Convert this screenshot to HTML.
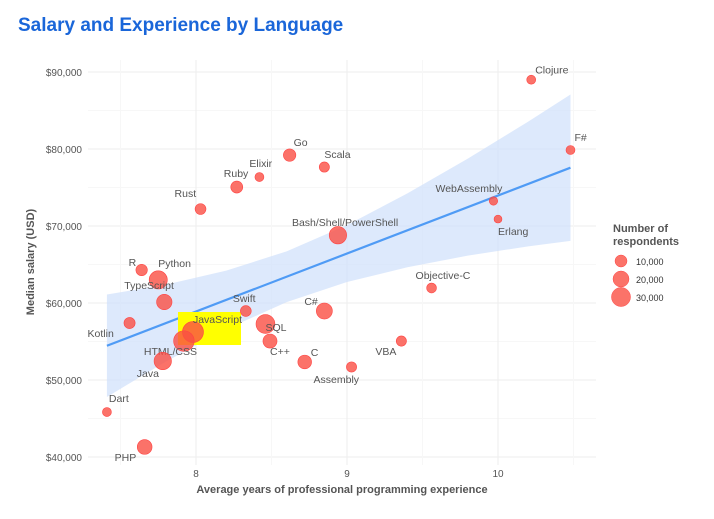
<!DOCTYPE html>
<html><head><meta charset="utf-8"><style>
body{margin:0;background:#fff;font-family:"Liberation Sans",Arial,sans-serif}
svg text{font-family:"Liberation Sans",Arial,sans-serif}
</style></head><body>
<svg id="chart" width="714" height="514" xmlns="http://www.w3.org/2000/svg">
<text x="18" y="31" font-size="19" font-weight="bold" fill="#1a66d9">Salary and Experience by Language</text>
<g id="grid"></g>
<g id="band"></g>
<g id="pts"></g>
<g id="axes"></g>
<text x="342" y="493" font-size="11" font-weight="bold" fill="#555" text-anchor="middle">Average years of professional programming experience</text>
<text transform="translate(34,262) rotate(-90)" font-size="11" font-weight="bold" fill="#555" text-anchor="middle">Median salary (USD)</text>
<g>
<text x="613" y="232" font-size="11" font-weight="bold" fill="#555">Number of</text>
<text x="613" y="245" font-size="11" font-weight="bold" fill="#555">respondents</text>
<circle cx="621" cy="261" r="6" fill="#fa5a4f" fill-opacity="0.85" stroke="#f44" stroke-width="0.5"/>
<circle cx="621" cy="279" r="8" fill="#fa5a4f" fill-opacity="0.85" stroke="#f44" stroke-width="0.5"/>
<circle cx="621" cy="297" r="9.5" fill="#fa5a4f" fill-opacity="0.85" stroke="#f44" stroke-width="0.5"/>
<text x="636" y="265" font-size="9" fill="#333">10,000</text>
<text x="636" y="283" font-size="9" fill="#333">20,000</text>
<text x="636" y="301" font-size="9" fill="#333">30,000</text>
</g>
</svg>
<script>
const langs=["Clojure","F#","Go","Scala","Elixir","Ruby","Rust","WebAssembly","Erlang","Bash/Shell/PowerShell","R","Python","TypeScript","Kotlin","Swift","JavaScript","HTML/CSS","Java","SQL","C#","C++","C","Assembly","VBA","Objective-C","Dart","PHP"];
const years=[10.22,10.48,8.62,8.85,8.42,8.27,8.03,9.97,10.0,8.94,7.64,7.75,7.79,7.56,8.33,7.98,7.92,7.78,8.46,8.85,8.49,8.72,9.03,9.36,9.56,7.41,7.66];
const salary=[89000,79870,79200,77660,76360,75060,72200,73250,70900,68800,64290,63000,60130,57400,58960,56230,55060,52470,57270,58960,55060,52340,51690,55060,61950,45840,41300];
const respondents=[1500,1500,7000,3000,1500,6000,4000,1000,600,22000,5000,25000,15000,4500,4000,38000,36000,22000,28000,17000,11000,10000,3000,3000,2500,1500,13000];
const yTicks=[40000,50000,60000,70000,80000,90000];
const xTicks=[8,9,10];
const trendX=[7.41,10.48];
const trendY=[54450,77570];
const bandX=[7.41,7.8,8.2,8.6,9.0,9.4,9.8,10.2,10.48];
const bandUpper=[61100,62390,64200,66710,70120,74240,78750,83560,87070];
const bandLower=[47800,52390,56600,60110,62720,64640,66150,67360,68070];
const labelDx=[4,4,4,0,-10,-13,-26,-58,0,-46,-13,0,-40,-42,-13,0,-40,-26,0,-20,0,6,-38,-26,-16,2,-30];
const labelDy=[-6,-9,-9,-9,-10,-10,-12,-9,16,-9,-4,-13,-13,14,-9,-9,14,16,7,-6,14,-6,16,14,-9,-10,14];
const NS="http://www.w3.org/2000/svg";
const X=v=>196+(v-8)*151, Y=v=>457-(v-40000)*0.0077;
function mk(tag,attrs,parent,text){const e=document.createElementNS(NS,tag);for(const k in attrs)e.setAttribute(k,attrs[k]);if(text!==undefined)e.textContent=text;parent.appendChild(e);return e;}
const grid=document.getElementById('grid'),axes=document.getElementById('axes'),band=document.getElementById('band'),pts=document.getElementById('pts');
for(let i=0;i<yTicks.length;i++){const v=yTicks[i];
 const l=mk('line',{x1:88,x2:596,y1:Y(v),y2:Y(v),stroke:'#f0f0f0','stroke-width':1.3},grid);
 
 if(i<yTicks.length-1){const m=mk('line',{x1:88,x2:596,y1:Y(v+5000),y2:Y(v+5000),stroke:'#f7f7f7','stroke-width':1},grid);
 }
 const t=mk('text',{x:82,y:Y(v)+4,'font-size':10,fill:'#555','text-anchor':'end'},axes,'$'+v.toLocaleString('en-US'));
 }
for(const v of [7.5,8.5,9.5,10.5]){const m=mk('line',{x1:X(v),x2:X(v),y1:60,y2:465,stroke:'#f7f7f7','stroke-width':1},grid);
 }
for(const v of xTicks){const l=mk('line',{x1:X(v),x2:X(v),y1:60,y2:465,stroke:'#f0f0f0','stroke-width':1.3},grid);
 
 const t=mk('text',{x:X(v),y:477,'font-size':10,fill:'#555','text-anchor':'middle'},axes,String(v));
 }
let d='';for(let i=0;i<bandX.length;i++)d+=(i?'L':'M')+X(bandX[i])+','+Y(bandUpper[i]);
for(let i=bandX.length-1;i>=0;i--)d+='L'+X(bandX[i])+','+Y(bandLower[i]);
const bp=mk('path',{d:d+'Z',fill:'#cfe0fb','fill-opacity':0.7},band);

const tl=mk('line',{x1:X(trendX[0]),y1:Y(trendY[0]),x2:X(trendX[1]),y2:Y(trendY[1]),stroke:'#4f9bf5','stroke-width':2.2},band);

const hl=mk('rect',{x:178,y:312,width:63,height:33,fill:'#ffff00'},band);

for(let i=0;i<langs.length;i++){
 const r=3+Math.sqrt(respondents[i]/38000)*7.5;
 const c=mk('circle',{cx:X(years[i]),cy:Y(salary[i]),r:r,fill:'#fa4f44','fill-opacity':0.8,stroke:'#f44','stroke-width':0.6},pts);
 
 
 const t=mk('text',{x:X(years[i])+labelDx[i],y:Y(salary[i])+labelDy[i],'font-size':10.5,fill:'#555'},pts,langs[i]);
 
 
}
</script>
</body></html>
